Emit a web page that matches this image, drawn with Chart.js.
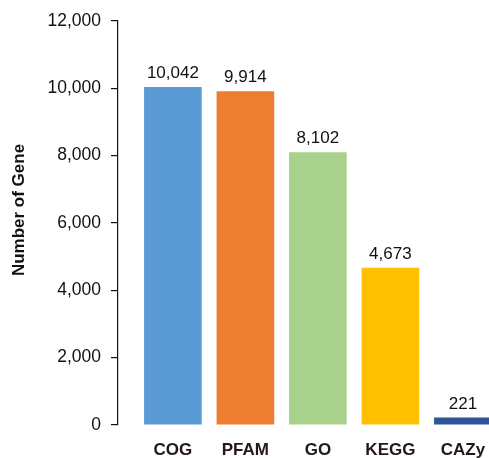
<!DOCTYPE html>
<html>
<head>
<meta charset="utf-8">
<script src="https://cdn.jsdelivr.net/npm/chart.js@4/dist/chart.umd.min.js"></script>
<style>
  html, body { margin: 0; padding: 0; background: #ffffff; }
  canvas { display: block; }
</style>
</head>
<body>
<canvas id="chart" width="489" height="458"></canvas>
<script>
// Annotation databases and the number of genes annotated in each
const categories = ['COG', 'PFAM', 'GO', 'KEGG', 'CAZy'];
const geneCounts = [10042, 9914, 8102, 4673, 221];
const barColors = ['#5B9BD5', '#ED7D31', '#A9D18E', '#FFC000', '#2F5597'];
const yTicks = [0, 2000, 4000, 6000, 8000, 10000, 12000];
const yTitle = 'Number of Gene';

const FONT = "'Liberation Sans', Arial, Helvetica, sans-serif";
const fmt = v => Number(v).toLocaleString('en-US');

// Value labels above each bar
const valueLabels = {
  id: 'valueLabels',
  afterDatasetsDraw(chart) {
    const ctx = chart.ctx;
    const meta = chart.getDatasetMeta(0);
    ctx.save();
    ctx.font = `17px ${FONT}`;
    ctx.fillStyle = '#111111';
    ctx.textAlign = 'center';
    ctx.textBaseline = 'alphabetic';
    meta.data.forEach((bar, i) => {
      ctx.fillText(fmt(geneCounts[i]), bar.x, bar.y - 9);
    });
    ctx.restore();
  }
};

// Rotated y-axis title
const axisTitle = {
  id: 'axisTitle',
  afterDraw(chart) {
    const ctx = chart.ctx;
    ctx.save();
    ctx.translate(19.5, 210);
    ctx.rotate(-Math.PI / 2);
    ctx.font = `bold 17px ${FONT}`;
    ctx.fillStyle = '#111111';
    ctx.textAlign = 'center';
    ctx.textBaseline = 'middle';
    ctx.fillText(yTitle, 0, 0);
    ctx.restore();
  }
};

new Chart(document.getElementById('chart'), {
  type: 'bar',
  data: {
    datasets: [{
      data: categories.map((c, i) => ({ x: i + 1, y: geneCounts[i] })),
      backgroundColor: barColors,
      borderWidth: 0,
      barPercentage: 0.795,
      categoryPercentage: 1
    }]
  },
  options: {
    responsive: false,
    devicePixelRatio: 1,
    animation: false,
    layout: { padding: { top: 21, right: 0, left: 0, bottom: 0 } },
    plugins: {
      legend: { display: false },
      tooltip: { enabled: false }
    },
    scales: {
      x: {
        type: 'linear',
        offset: false,
        min: 0.243,
        max: 5.36,
        afterBuildTicks(scale) {
          scale.ticks = categories.map((c, i) => ({ value: i + 1 }));
        },
        afterFit(scale) {
          scale.height = 33;
          scale.paddingLeft = 0;
          scale.paddingRight = 0;
        },
        grid: { display: false, drawTicks: false },
        border: { display: false },
        ticks: {
          autoSkip: false,
          maxRotation: 0,
          padding: 15,
          color: '#231815',
          font: { family: FONT, size: 17, weight: 'bold' },
          callback: v => categories[v - 1] ?? ''
        }
      },
      y: {
        min: yTicks[0],
        max: yTicks[yTicks.length - 1],
        afterBuildTicks(scale) {
          scale.ticks = yTicks.map(v => ({ value: v }));
        },
        afterFit(scale) {
          scale.width = 118;
          scale.paddingTop = 0;
          scale.paddingBottom = 0;
        },
        grid: {
          drawOnChartArea: false,
          drawTicks: true,
          tickLength: 7,
          color: '#111111',
          lineWidth: 1.2
        },
        border: { display: true, color: '#111111', width: 1.2 },
        ticks: {
          padding: 10,
          color: '#111111',
          font: { family: FONT, size: 17.5 },
          callback: v => fmt(v)
        }
      }
    }
  },
  plugins: [valueLabels, axisTitle]
});
</script>
</body>
</html>
